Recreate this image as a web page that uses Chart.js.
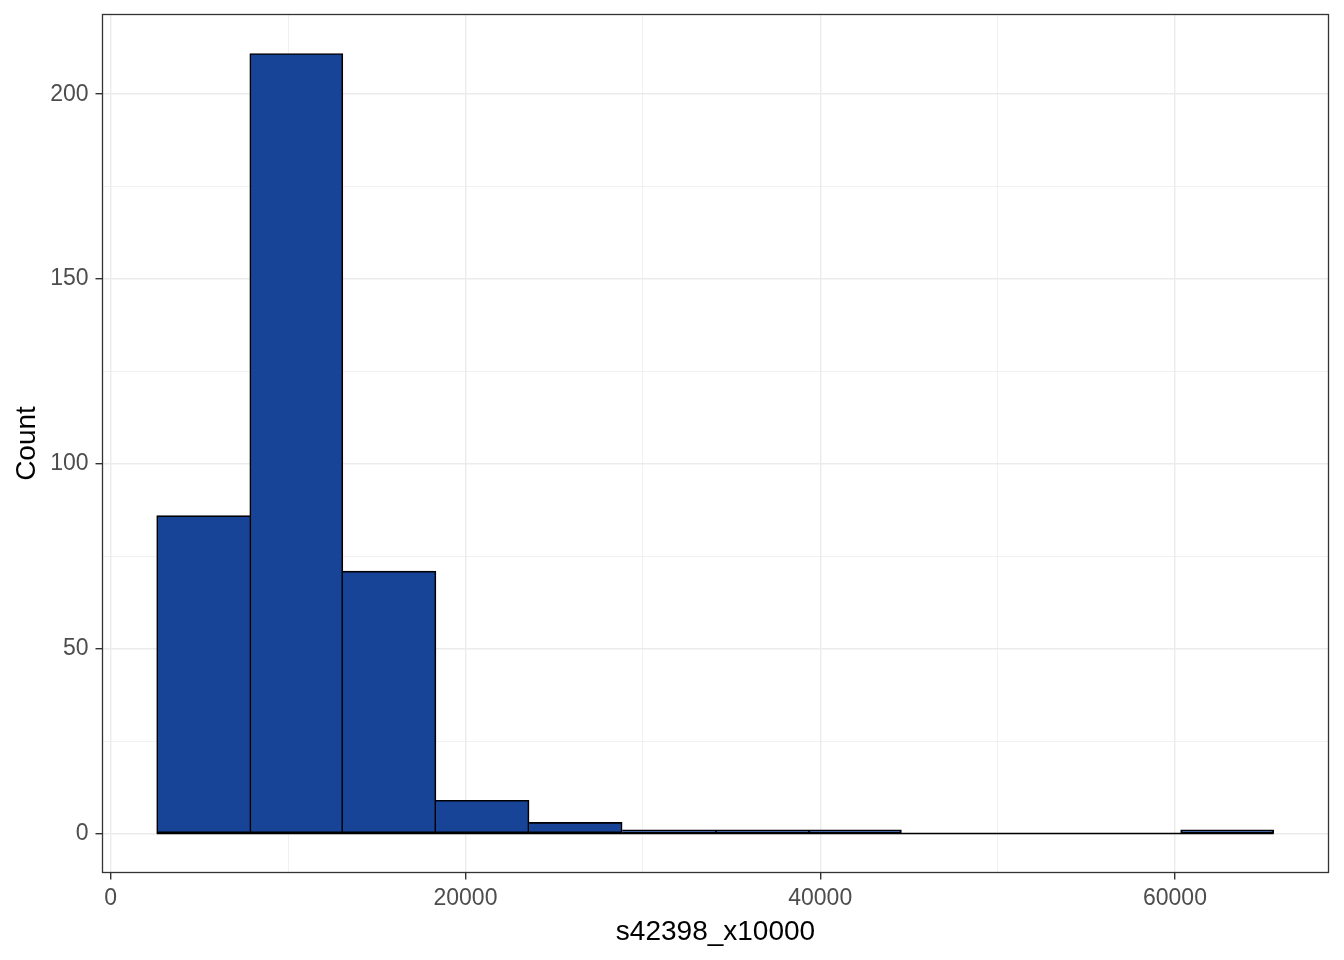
<!DOCTYPE html>
<html>
<head>
<meta charset="utf-8">
<script src="https://cdn.jsdelivr.net/npm/chart.js@4/dist/chart.umd.min.js"></script>
<style>
  html, body { margin: 0; padding: 0; background: #fff; }
  #wrap { width: 1344px; height: 960px; }
</style>
</head>
<body>
<div id="wrap"><canvas id="chart"></canvas></div>
<script>
// histogram bins
const binEdges = [2593, 7841, 13089, 18337, 23585, 28833, 34081, 39329, 44577, 49825, 55073, 60321, 65569];
const counts = [86, 211, 71, 9, 3, 1, 1, 1, 0, 0, 0, 1];

const xTicks = [0, 10000, 20000, 30000, 40000, 50000, 60000];
const xLabeled = [0, 20000, 40000, 60000];
const yTicks = [0, 25, 50, 75, 100, 125, 150, 175, 200];
const yLabeled = [0, 50, 100, 150, 200];

const xTitle = "s42398_x10000";
const yTitle = "Count";

const FONT = "'Liberation Sans', Arial, sans-serif";
const W = 1.7;

const bars = counts.map((c, i) => ({ x: (binEdges[i] + binEdges[i + 1]) / 2, y: c }));

const panelBorder = {
  id: "panelBorder",
  afterDraw(chart) {
    const { ctx, chartArea: a } = chart;
    ctx.save();
    ctx.strokeStyle = "#333333";
    ctx.lineWidth = 1.3;
    ctx.strokeRect(a.left, a.top, a.right - a.left, a.bottom - a.top);
    ctx.restore();
  }
};

function gridFor(labeled) {
  return {
    offset: false,
    color: "#EBEBEB",
    lineWidth: ctx => (ctx.tick && labeled.includes(ctx.tick.value) ? 1.4 : 0.7),
    tickColor: ctx => (ctx.tick && labeled.includes(ctx.tick.value) ? "#333333" : "rgba(0,0,0,0)"),
    tickWidth: 1.4,
    tickLength: 7
  };
}

new Chart(document.getElementById("chart"), {
  data: {
    datasets: [
      {
        type: "line",
        data: [{ x: binEdges[0], y: 0 }, { x: binEdges[binEdges.length - 1], y: 0 }],
        borderColor: "#000000",
        borderWidth: 1.4,
        pointRadius: 0
      },
      {
        type: "bar",
        data: bars,
        backgroundColor: "#184498",
        borderColor: "#000000",
        borderSkipped: false,
        borderWidth: ctx => {
          const i = ctx.dataIndex;
          const c = counts[i];
          const prev = i > 0 ? counts[i - 1] : 0;
          const next = i < counts.length - 1 ? counts[i + 1] : 0;
          return { top: W, bottom: W, left: prev <= c ? W : 0, right: next < c ? W : 0 };
        },
        barPercentage: 1,
        categoryPercentage: 1,
        grouped: false
      }
    ]
  },
  options: {
    responsive: true,
    maintainAspectRatio: false,
    animation: false,
    layout: { padding: { top: 14.5, right: 15.5, left: 0, bottom: 0 } },
    plugins: { legend: { display: false }, tooltip: { enabled: false } },
    scales: {
      x: {
        type: "linear",
        min: -462,
        max: 68655,
        offset: false,
        border: { display: false },
        grid: gridFor(xLabeled),
        afterBuildTicks: s => { s.ticks = xTicks.map(v => ({ value: v })); },
        afterFit: s => { s.height = 87.5; s.paddingLeft = 0; s.paddingRight = 0; },
        ticks: {
          color: "#4D4D4D",
          font: { family: FONT, size: 23 },
          padding: 5,
          maxRotation: 0,
          autoSkip: false,
          callback: v => (xLabeled.includes(v) ? String(v) : "")
        },
        title: {
          display: true,
          text: xTitle,
          color: "#000000",
          font: { family: FONT, size: 28 },
          padding: { top: 0, bottom: 11 }
        }
      },
      y: {
        type: "linear",
        min: -10.55,
        max: 221.55,
        border: { display: false },
        grid: gridFor(yLabeled),
        afterBuildTicks: s => { s.ticks = yTicks.map(v => ({ value: v })); },
        afterFit: s => { s.width = 102.5; s.paddingTop = 0; s.paddingBottom = 0; },
        ticks: {
          color: "#4D4D4D",
          font: { family: FONT, size: 23 },
          padding: 7,
          autoSkip: false,
          callback: v => (yLabeled.includes(v) ? String(v) : "")
        },
        title: {
          display: true,
          text: yTitle,
          color: "#000000",
          font: { family: FONT, size: 28 },
          padding: { top: 10, bottom: 0 }
        }
      }
    }
  },
  plugins: [panelBorder]
});
</script>
</body>
</html>
